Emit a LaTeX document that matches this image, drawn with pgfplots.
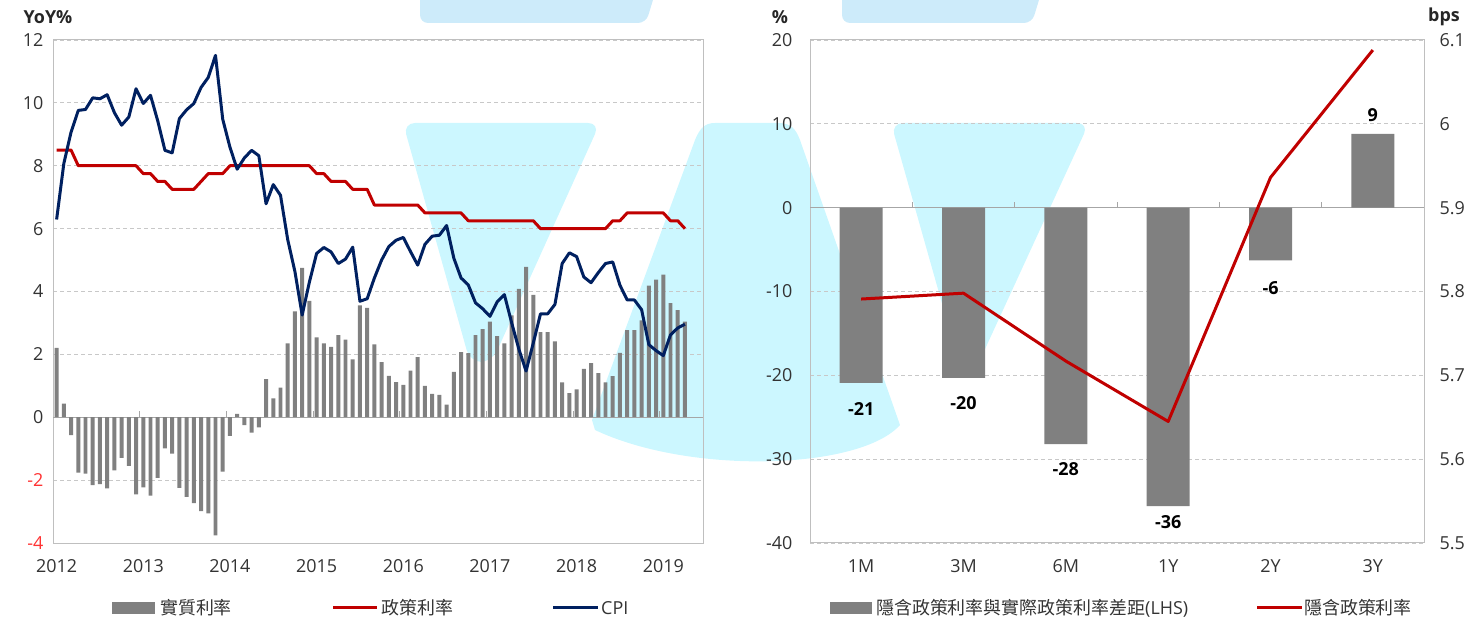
\documentclass[border=0pt]{standalone}
\usepackage{fontspec}
\setmainfont{Open Sans}
\newfontfamily\cjk{Noto Sans CJK TC}
\usepackage{pgfplots}
\usepackage{pgfplotstable}
\pgfplotsset{compat=1.18}

\definecolor{bargray}{HTML}{808080}
\definecolor{polred}{HTML}{C00000}
\definecolor{cpiblue}{HTML}{002060}
\definecolor{gridgray}{HTML}{C8C8C8}
\definecolor{framegray}{HTML}{BFBFBF}
\definecolor{zerogray}{HTML}{A6A6A6}
\definecolor{txt}{HTML}{333333}
\definecolor{negred}{HTML}{FF3333}
\definecolor{wmband}{HTML}{CDEBFA}
\definecolor{wmcyan}{HTML}{CCF7FF}

\pgfplotstableread{
i bar pol cpi
0 2.21 8.5 6.29
1 0.43 8.5 8.07
2 -0.57 8.5 9.07
3 -1.76 8.0 9.76
4 -1.79 8.0 9.79
5 -2.16 8.0 10.16
6 -2.13 8.0 10.13
7 -2.26 8.0 10.26
8 -1.69 8.0 9.69
9 -1.29 8.0 9.29
10 -1.55 8.0 9.55
11 -2.45 8.0 10.45
12 -2.23 7.75 9.98
13 -2.49 7.75 10.24
14 -1.93 7.5 9.43
15 -0.99 7.5 8.49
16 -1.16 7.25 8.41
17 -2.25 7.25 9.50
18 -2.53 7.25 9.78
19 -2.73 7.25 9.98
20 -2.99 7.5 10.49
21 -3.06 7.75 10.81
22 -3.76 7.75 11.51
23 -1.73 7.75 9.48
24 -0.59 8.0 8.59
25 0.11 8.0 7.89
26 -0.25 8.0 8.25
27 -0.49 8.0 8.49
28 -0.32 8.0 8.32
29 1.21 8.0 6.79
30 0.60 8.0 7.40
31 0.94 8.0 7.06
32 2.35 8.0 5.65
33 3.37 8.0 4.63
34 4.75 8.0 3.25
35 3.70 8.0 4.30
36 2.54 7.75 5.21
37 2.35 7.75 5.40
38 2.24 7.5 5.26
39 2.61 7.5 4.89
40 2.47 7.5 5.03
41 1.84 7.25 5.41
42 3.56 7.25 3.69
43 3.48 7.25 3.77
44 2.32 6.75 4.43
45 1.75 6.75 5.00
46 1.32 6.75 5.43
47 1.12 6.75 5.63
48 1.03 6.75 5.72
49 1.48 6.75 5.27
50 1.91 6.75 4.84
51 1.00 6.5 5.50
52 0.74 6.5 5.76
53 0.71 6.5 5.79
54 0.40 6.5 6.10
55 1.44 6.5 5.06
56 2.07 6.5 4.43
57 2.04 6.25 4.21
58 2.61 6.25 3.64
59 2.80 6.25 3.45
60 3.04 6.25 3.21
61 2.58 6.25 3.67
62 2.35 6.25 3.90
63 3.24 6.25 3.01
64 4.08 6.25 2.17
65 4.78 6.25 1.47
66 3.89 6.25 2.36
67 2.71 6.0 3.29
68 2.71 6.0 3.29
69 2.41 6.0 3.59
70 1.11 6.0 4.89
71 0.77 6.0 5.23
72 0.89 6.0 5.11
73 1.54 6.0 4.46
74 1.72 6.0 4.28
75 1.40 6.0 4.60
76 1.11 6.0 4.89
77 1.31 6.25 4.94
78 2.05 6.25 4.20
79 2.77 6.5 3.73
80 2.77 6.5 3.73
81 3.08 6.5 3.42
82 4.19 6.5 2.31
83 4.38 6.5 2.12
84 4.54 6.5 1.96
85 3.63 6.25 2.62
86 3.41 6.25 2.84
87 3.04 6.0 2.96
}\lefttable

\pgfplotstableread{
x gap dy imp
0 -20.9 -19.5 5.791
1 -20.3 -18.5 5.798
2 -28.2 -18.5 5.717
3 -35.6 -9.5 5.645
4 -6.3 -20.5 5.936
5 8.8 12.5 6.088
}\righttable

\begin{document}
\begin{tikzpicture}
\path[use as bounding box] (0bp,0bp) rectangle (1476bp,620bp);

% ---------------- background watermark (light logo shapes) ----------------
\begin{scope}[x=1bp, y=-1bp, yshift=620bp]
\fill[wmband, rounded corners=8bp] (420,-10) -- (656,-10) -- (646,23) -- (420,23) -- cycle;
\fill[wmband, rounded corners=8bp] (842,-10) -- (1042,-10) -- (1032,23) -- (842,23) -- cycle;
\fill[wmcyan, rounded corners=12bp] (403,123) -- (600,123) -- (492,362) -- (470,362) -- cycle;
\fill[wmcyan, rounded corners=12bp] (891,123) -- (1089,123) -- (980,360) -- (958,360) -- cycle;
\fill[wmcyan] (715,123) -- (778,123) .. controls (792,123) and (796,130) .. (800,140)
   -- (900,425) .. controls (860,470) and (690,475) .. (595,430)
   -- (592,420) -- (695,140) .. controls (700,128) and (705,123) .. (715,123) -- cycle;
\end{scope}

% ---------------- left panel ----------------
\begin{axis}[
  at={(53bp,77bp)}, anchor=south west, scale only axis,
  width=650bp, height=503bp,
  xmin=-0.5, xmax=89.5, ymin=-4, ymax=12,
  xtick={0,12,24,36,48,60,72,84},
  xticklabels={2012,2013,2014,2015,2016,2017,2018,2019},
  ytick={-4,-2,0,2,4,6,8,10,12},
  yticklabels={\textcolor{negred}{-4},\textcolor{negred}{-2},0,2,4,6,8,10,12},
  major tick length=0pt,
  ymajorgrids,
  grid style={gridgray, line width=0.9bp, dash pattern=on 4bp off 3bp},
  axis line style={framegray, line width=1bp},
  tick label style={font=\fontsize{18}{20}\selectfont, color=txt},
  xticklabel style={yshift=-13bp},
  yticklabel style={xshift=-6bp},
  /pgf/number format/assume math mode=true,
]
\draw[zerogray, line width=1.2bp] (axis cs:-0.5,0) -- (axis cs:89.5,0);
\pgfplotsinvokeforeach{11.5,23.5,35.5,47.5,59.5,71.5,83.5}{
  \draw[zerogray, line width=1bp] (axis cs:#1,0) -- ++(0bp,6bp);
}
\addplot[ybar, bar width=0.55, fill=bargray, draw=none] table[x=i, y=bar] {\lefttable};
\addplot[polred, line width=3bp, no marks, line join=round] table[x=i, y=pol] {\lefttable};
\addplot[cpiblue, line width=3bp, no marks, line join=round] table[x=i, y=cpi] {\lefttable};
\end{axis}

% ---------------- right panel: bars (LHS) ----------------
\begin{axis}[
  at={(810bp,77bp)}, anchor=south west, scale only axis,
  width=614bp, height=503bp,
  xmin=-0.5, xmax=5.5, ymin=-40, ymax=20,
  xtick={0,1,2,3,4,5}, xticklabels={1M,3M,6M,1Y,2Y,3Y},
  ytick={-40,-30,-20,-10,0,10,20},
  major tick length=0pt,
  ymajorgrids,
  grid style={gridgray, line width=0.9bp, dash pattern=on 4bp off 3bp},
  axis line style={framegray, line width=1bp},
  tick label style={font=\fontsize{18}{20}\selectfont, color=txt},
  xticklabel style={yshift=-13bp},
  yticklabel style={xshift=-14bp},
  /pgf/number format/assume math mode=true,
]
\draw[zerogray, line width=1.2bp] (axis cs:-0.5,0) -- (axis cs:5.5,0);
\pgfplotsinvokeforeach{0.5,1.5,2.5,3.5,4.5}{
  \draw[zerogray, line width=1bp] (axis cs:#1,0) -- ++(0bp,6bp);
}
\addplot[ybar, bar width=0.42, fill=bargray, draw=none,
  nodes near coords, nodes near coords align=vertical,
  point meta=y,
  visualization depends on={\thisrow{dy} \as \labdy},
  every node near coord/.append style={font=\fontsize{18}{20}\selectfont\bfseries,
     color=black, inner sep=0pt, yshift=\labdy bp,
     /pgf/number format/fixed, /pgf/number format/precision=0},
] table[x=x, y=gap] {\righttable};
\end{axis}

% ---------------- right panel: line (RHS) ----------------
\begin{axis}[
  at={(810bp,77bp)}, anchor=south west, scale only axis,
  width=614bp, height=503bp,
  xmin=-0.5, xmax=5.5, ymin=5.5, ymax=6.1,
  hide x axis,
  axis y line*=right,
  ytick={5.5,5.6,5.7,5.8,5.9,6.0,6.1},
  yticklabels={5.5,5.6,5.7,5.8,5.9,6,6.1},
  major tick length=0pt,
  axis line style={framegray, line width=1bp},
  tick label style={font=\fontsize{18}{20}\selectfont, color=txt},
  yticklabel style={xshift=12bp},
]
\addplot[polred, line width=3bp, no marks, line join=round] table[x=x, y=imp] {\righttable};
\end{axis}

% ---------------- titles ----------------
\node[font=\fontsize{18}{20}\selectfont\bfseries, color=black!85] at (48bp,603bp) {YoY\%};
\node[font=\fontsize{18}{20}\selectfont\bfseries, color=black!85] at (780bp,603bp) {\%};
\node[font=\fontsize{18}{20}\selectfont\bfseries, color=black!85] at (1444bp,603bp) {bps};

% ---------------- legends ----------------
\begin{scope}[every node/.style={anchor=west, inner sep=0pt, color=txt}]
\fill[bargray] (112bp,6bp) rectangle (155bp,18bp);
\node[font=\cjk\fontsize{18}{20}\selectfont] at (160bp,12bp) {實質利率};
\draw[polred, line width=3bp] (333bp,12bp) -- (377bp,12bp);
\node[font=\cjk\fontsize{18}{20}\selectfont] at (381bp,12bp) {政策利率};
\draw[cpiblue, line width=3bp] (553bp,12bp) -- (598bp,12bp);
\node[font=\fontsize{18}{20}\selectfont] at (601bp,12bp) {CPI};

\fill[bargray] (830bp,6bp) rectangle (872bp,18bp);
\node[font=\fontsize{18}{20}\selectfont] at (876bp,12bp) {{\cjk 隱含政策利率與實際政策利率差距}(LHS)};
\draw[polred, line width=3bp] (1257bp,12bp) -- (1302bp,12bp);
\node[font=\cjk\fontsize{18}{20}\selectfont] at (1304bp,12bp) {隱含政策利率};
\end{scope}
\end{tikzpicture}
\end{document}
